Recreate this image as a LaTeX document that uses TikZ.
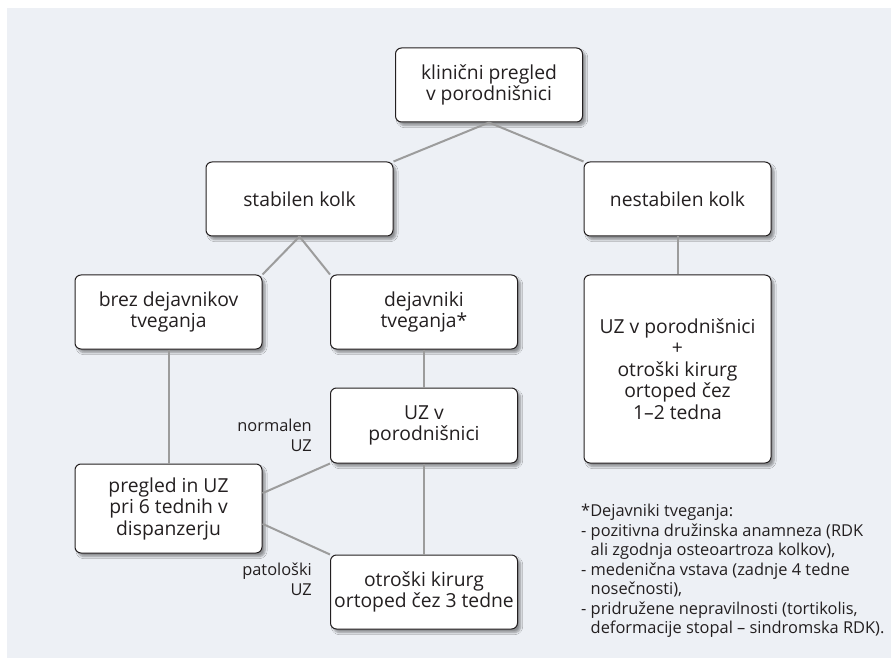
\documentclass[tikz,border=0pt]{standalone}
\usepackage{fontspec}
\setmainfont{Open Sans}
\usetikzlibrary{shadows.blur,calc}
\definecolor{panel}{HTML}{EDF0F5}
\definecolor{conn}{HTML}{9C9C9C}
\definecolor{txt}{HTML}{231F20}
\tikzset{
  box/.style={draw=txt, line width=1pt, fill=white, rounded corners=6pt,
    minimum width=187pt, inner sep=2pt, align=center, text=txt,
    font=\fontsize{19.3}{21.5}\selectfont,
    blur shadow={shadow xshift=3pt, shadow yshift=-3.5pt, shadow blur steps=6, shadow opacity=40}},
  conn/.style={draw=conn, line width=2pt},
  note/.style={text=txt, font=\fontsize{16.4}{19.5}\selectfont, inner sep=0pt}
}
\begin{document}
\begin{tikzpicture}[x=1pt,y=-1pt]
\useasboundingbox (0,0) rectangle (891,660);
\fill[panel] (7,8) rectangle (891,658);
\node[box, minimum height=74pt] (top) at (489,85) {klinični pregled\\v porodnišnici};
\node[box, minimum height=74pt] (stab) at (299.5,199) {stabilen kolk};
\node[box, minimum height=74pt] (nest) at (677.5,199) {nestabilen kolk};
\node[box, minimum height=74pt] (brez) at (168.5,312) {brez dejavnikov\\tveganja};
\node[box, minimum height=74pt] (dej) at (424,312) {dejavniki\\tveganja*};
\node[box, minimum height=188pt] (uzp) at (677.5,369) {UZ v porodnišnici\\+\\otroški kirurg\\ortoped čez\\1–2 tedna};
\node[box, minimum height=75pt] (uz) at (424,425.5) {UZ v\\porodnišnici};
\node[box, minimum height=89pt] (preg) at (168.5,508.5) {pregled in UZ\\pri 6 tednih v\\dispanzerju};
\node[box, minimum height=74pt] (otr) at (424,592) {otroški kirurg\\ortoped čez 3 tedne};
\draw[conn] (top.south) -- (stab.north east);
\draw[conn] (top.south) -- (nest.north west);
\draw[conn] (stab.south) -- (brez.north east);
\draw[conn] (stab.south) -- (dej.north west);
\draw[conn] (nest.south) -- (uzp.north);
\draw[conn] (brez.south) -- (preg.north);
\draw[conn] (dej.south) -- (uz.north);
\draw[conn] (uz.south) -- (otr.north);
\draw[conn] ($(preg.north east)!0.33!(preg.south east)$) -- (uz.south west);
\draw[conn] ($(preg.north east)!0.67!(preg.south east)$) -- (otr.north west);
\node[note, align=right, anchor=north east] (lnorm) at (312,419) {normalen\\UZ};
\node[note, align=right, anchor=north east] (lpat) at (312,563) {patološki\\UZ};
\node[note, align=left, anchor=north west] (fn) at (581,504) {*Dejavniki tveganja:\\
- pozitivna družinska anamneza (RDK\\
\hphantom{- }ali zgodnja osteoartroza kolkov),\\
- medenična vstava (zadnje 4 tedne\\
\hphantom{- }nosečnosti),\\
- pridružene nepravilnosti (tortikolis,\\
\hphantom{- }deformacije stopal – sindromska RDK).};
\end{tikzpicture}
\end{document}
